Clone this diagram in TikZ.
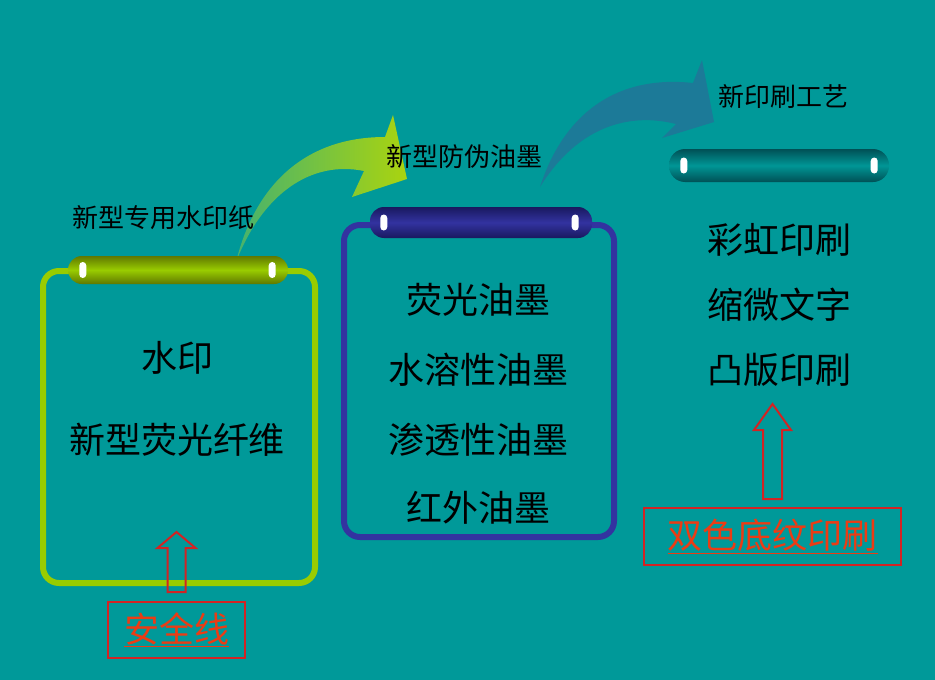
\documentclass[tikz,border=0pt]{standalone}
\usepackage{fontspec}
\newfontfamily\cjk{Noto Sans CJK SC}
\usepackage{xcolor}
\usetikzlibrary{positioning}

\definecolor{bgteal}{RGB}{0,153,153}
\definecolor{lgreen}{RGB}{153,204,0}
\definecolor{dgreen}{RGB}{95,120,0}
\definecolor{lblue}{RGB}{51,51,160}
\definecolor{dblue}{RGB}{25,25,95}
\definecolor{lteal}{RGB}{0,150,150}
\definecolor{dteal}{RGB}{0,80,85}
\definecolor{arrowA}{RGB}{70,178,110}
\definecolor{arrowB}{RGB}{170,212,15}
\definecolor{arrowC}{RGB}{28,122,152}
\definecolor{noteline}{RGB}{210,35,35}
\definecolor{notetext}{RGB}{235,60,20}

\begin{document}
\begin{tikzpicture}[x=1pt, y=-1pt,
    item/.style={font=\cjk\fontsize{36}{40}\selectfont, text=black, inner sep=0pt},
    title/.style={font=\cjk\fontsize{26}{30}\selectfont, text=black, inner sep=0pt},
    frame/.style={line width=6pt, rounded corners=16pt, inner sep=0pt},
    tube/.style={rounded corners=14pt, minimum width=220pt, inner sep=0pt},
    slot/.style={fill=white, rounded corners=3.5pt, minimum width=7pt, minimum height=16pt, inner sep=0pt},
    note/.style={draw=noteline, line width=2pt, text=notetext, inner sep=0pt,
                 font=\cjk\fontsize{35}{38}\selectfont},
    uparr/.style={draw=noteline, line width=2pt, line join=miter},
  ]
  % background
  \fill[bgteal] (0,0) rectangle (935,680);

  % curved arrows between the groups
  \path[left color=arrowA, right color=arrowB]
    (236,262) .. controls (255,185) and (305,137) .. (385,137)
    -- (393,115) -- (407,179) -- (352,197) -- (364,171)
    .. controls (310,160) and (262,195) .. cycle;
  \fill[arrowC]
    (540,187) .. controls (565,110) and (620,75) .. (693,83)
    -- (702,60) -- (714,122) -- (662,138) -- (676,124)
    .. controls (620,110) and (572,135) .. cycle;

  % left group: watermark paper
  \node (lframe) [frame, draw=lgreen, minimum width=272pt, minimum height=312pt] at (179,427) {};
  \node (lbar) [tube, minimum height=28pt, top color=dgreen, bottom color=dgreen, middle color=lgreen] at (178,270) {};
  \node (ls1) [slot] at ([xshift=15pt]lbar.west) {};
  \node (ls2) [slot] at ([xshift=-16pt]lbar.east) {};
  \node (ltitle) [title] at (163,218) {新型专用水印纸};
  \node (l1) [item] at (177,358) {水印};
  \node (l2) [item] at (177,440) {新型荧光纤维};

  % middle group: anti-counterfeit ink
  \node (mframe) [frame, draw=lblue, minimum width=270pt, minimum height=312pt] at (479,381) {};
  \node (mbar) [tube, minimum width=222pt, minimum height=31pt, top color=dblue, bottom color=dblue, middle color=lblue] at (481,222.5) {};
  \node (ms1) [slot] at ([xshift=14pt]mbar.west) {};
  \node (ms2) [slot] at ([xshift=-17pt]mbar.east) {};
  \node (mtitle) [title] at (464,157) {新型防伪油墨};
  \node (m1) [item] at (478,300) {荧光油墨};
  \node (m2) [item] at (478,370) {水溶性油墨};
  \node (m3) [item] at (478,440) {渗透性油墨};
  \node (m4) [item] at (478,508) {红外油墨};

  % right group: printing process
  \node (rbar) [tube, minimum height=33pt, rounded corners=16pt, top color=dteal, bottom color=dteal, middle color=lteal] at (779,165.5) {};
  \node (rs1) [slot] at ([xshift=15pt]rbar.west) {};
  \node (rs2) [slot] at ([xshift=-15pt]rbar.east) {};
  \node (rtitle) [title] at (783,97) {新印刷工艺};
  \node (r1) [item] at (779,240) {彩虹印刷};
  \node (r2) [item] at (779,305) {缩微文字};
  \node (r3) [item] at (779,370) {凸版印刷};

  % red notes with hollow arrows
  \node (lnote) [note, minimum width=137pt, minimum height=56pt] at (176.5,630) {\underline{安全线}};
  \node (rnote) [note, minimum width=257pt, minimum height=57pt] at (772.5,536.5) {\underline{双色底纹印刷}\hspace{14pt}};
  \draw[uparr] ([xshift=-9pt, yshift=9pt]lnote.north) -- ++(0,-44) -- ++(-10,0)
    -- ++(19,-16) -- ++(19,16) -- ++(-10,0) -- ++(0,44) -- cycle;
  \draw[uparr] ([xshift=-9.5pt, yshift=8pt]rnote.north) -- ++(0,-69) -- ++(-9,0)
    -- ++(18.5,-26) -- ++(18.5,26) -- ++(-9,0) -- ++(0,69) -- cycle;
\end{tikzpicture}
\end{document}
